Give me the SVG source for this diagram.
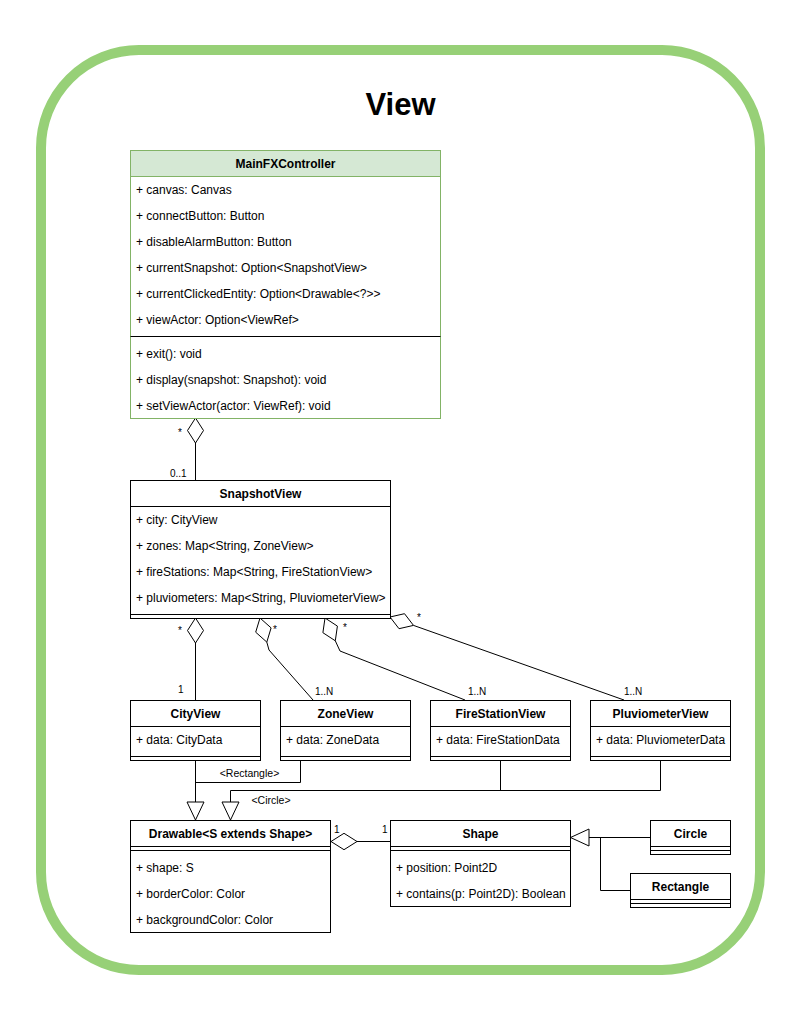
<svg xmlns="http://www.w3.org/2000/svg" width="801" height="1011" viewBox="0 0 801 1011">
<style>
text{font-family:"Liberation Sans",Arial,Helvetica,sans-serif;fill:#000}
.t{font-size:12px;font-weight:bold;text-anchor:middle}
.a{font-size:12px}
.m{font-size:10px}
.l{font-size:10.5px;text-anchor:middle}
.box{fill:#fff;stroke:#000;stroke-width:1}
.ln{stroke:#000;stroke-width:1;fill:none}
.e{stroke:#000;stroke-width:1;fill:none}
.d{stroke:#000;stroke-width:1;fill:#fff}
</style>
<rect width="801" height="1011" fill="#fff"/>
<rect x="41" y="50" width="719" height="920" rx="98" ry="98" fill="none" stroke="#97D077" stroke-width="10"/>
<text x="400.5" y="115" style="font-size:31px;font-weight:bold;text-anchor:middle">View</text>

<g id="connectors">
  <path class="e" d="M195.5,443 L195.5,480"/>
  <path class="d" d="M195.5,418 L203.5,430.5 L195.5,443 L187.5,430.5 Z"/>
  <text class="m" x="178" y="436">*</text>
  <text class="m" x="170" y="477">0..1</text>
  <path class="e" d="M195.5,643 L195.5,700"/>
  <path class="d" d="M195.5,618 L203.5,630.5 L195.5,643 L187.5,630.5 Z"/>
  <text class="m" x="178" y="634">*</text>
  <text class="m" x="178" y="693">1</text>
  <path class="e" d="M266.8,642.1 L269,650 L313,700"/>
  <path class="d" d="M260,618 L271.1,627.9 L266.8,642.1 L255.7,632.2 Z"/>
  <text class="m" x="273" y="633">*</text>
  <text class="m" x="315" y="695">1..N</text>
  <path class="e" d="M335.3,640.8 L340,651 L465,700"/>
  <path class="d" d="M325,618 L337.4,626.1 L335.3,640.8 L322.9,632.7 Z"/>
  <text class="m" x="343" y="631">*</text>
  <text class="m" x="468" y="695">1..N</text>
  <path class="e" d="M413.5,625.4 L624,700"/>
  <path class="d" d="M390,617 L404.5,613.7 L413.5,625.4 L399,628.7 Z"/>
  <text class="m" x="417" y="621">*</text>
  <text class="m" x="624" y="695">1..N</text>
  <path class="e" d="M195.5,760 L195.5,802"/>
  <path class="e" d="M300.5,760 L300.5,782.5 L195.5,782.5"/>
  <path class="d" d="M187,802 L204,802 L195.5,820 Z"/>
  <text class="l" x="249.5" y="777">&lt;Rectangle&gt;</text>
  <path class="e" d="M500.5,760 L500.5,790.5"/>
  <path class="e" d="M660.5,760 L660.5,790.5 L230.5,790.5 L230.5,802"/>
  <path class="d" d="M222,802 L239,802 L230.5,820 Z"/>
  <text class="l" x="271" y="804">&lt;Circle&gt;</text>
  <path class="e" d="M357,841.5 L390,841.5"/>
  <path class="d" d="M331,841.5 L344,833.3 L357,841.5 L344,849.7 Z"/>
  <text class="m" x="334" y="833">1</text>
  <text class="m" x="382" y="833">1</text>
  <path class="e" d="M650,837.5 L589,837.5"/>
  <path class="e" d="M630,890.5 L600.5,890.5 L600.5,837.5"/>
  <path class="d" d="M570.5,837.5 L589,829 L589,846 Z"/>
</g>

<g id="MainFXController">
  <rect x="130.5" y="150.5" width="310" height="268" fill="#fff" stroke="#82b366"/>
  <rect x="130.5" y="150.5" width="310" height="26" fill="#d5e8d4" stroke="#82b366"/>
  <text class="t" x="285.5" y="167.5">MainFXController</text>
  <text class="a" x="136" y="194">+ canvas: Canvas</text>
  <text class="a" x="136" y="220">+ connectButton: Button</text>
  <text class="a" x="136" y="246">+ disableAlarmButton: Button</text>
  <text class="a" x="136" y="272">+ currentSnapshot: Option&lt;SnapshotView&gt;</text>
  <text class="a" x="136" y="298">+ currentClickedEntity: Option&lt;Drawable&lt;?&gt;&gt;</text>
  <text class="a" x="136" y="324">+ viewActor: Option&lt;ViewRef&gt;</text>
  <path class="ln" d="M130.5,336.5 L440.5,336.5"/>
  <text class="a" x="136" y="358">+ exit(): void</text>
  <text class="a" x="136" y="384">+ display(snapshot: Snapshot): void</text>
  <text class="a" x="136" y="410">+ setViewActor(actor: ViewRef): void</text>
</g>

<g id="SnapshotView">
  <rect class="box" x="130.5" y="480.5" width="260" height="138"/>
  <path class="ln" d="M130.5,506.5 L390.5,506.5 M130.5,614.5 L390.5,614.5"/>
  <text class="t" x="260.5" y="497.5">SnapshotView</text>
  <text class="a" x="136" y="524">+ city: CityView</text>
  <text class="a" x="136" y="550">+ zones: Map&lt;String, ZoneView&gt;</text>
  <text class="a" x="136" y="576">+ fireStations: Map&lt;String, FireStationView&gt;</text>
  <text class="a" x="136" y="602">+ pluviometers: Map&lt;String, PluviometerView&gt;</text>
</g>

<g id="CityView">
  <rect class="box" x="130.5" y="700.5" width="130" height="60"/>
  <path class="ln" d="M130.5,726.5 L260.5,726.5 M130.5,756.5 L260.5,756.5"/>
  <text class="t" x="195.5" y="717.5">CityView</text>
  <text class="a" x="136" y="744">+ data: CityData</text>
</g>

<g id="ZoneView">
  <rect class="box" x="280.5" y="700.5" width="130" height="60"/>
  <path class="ln" d="M280.5,726.5 L410.5,726.5 M280.5,756.5 L410.5,756.5"/>
  <text class="t" x="345.5" y="717.5">ZoneView</text>
  <text class="a" x="286" y="744">+ data: ZoneData</text>
</g>

<g id="FireStationView">
  <rect class="box" x="430.5" y="700.5" width="140" height="60"/>
  <path class="ln" d="M430.5,726.5 L570.5,726.5 M430.5,756.5 L570.5,756.5"/>
  <text class="t" x="500.5" y="717.5">FireStationView</text>
  <text class="a" x="436" y="744">+ data: FireStationData</text>
</g>

<g id="PluviometerView">
  <rect class="box" x="590.5" y="700.5" width="140" height="60"/>
  <path class="ln" d="M590.5,726.5 L730.5,726.5 M590.5,756.5 L730.5,756.5"/>
  <text class="t" x="660.5" y="717.5">PluviometerView</text>
  <text class="a" x="596" y="744">+ data: PluviometerData</text>
</g>

<g id="Drawable">
  <rect class="box" x="130.5" y="820.5" width="200" height="112"/>
  <path class="ln" d="M130.5,846.5 L330.5,846.5 M130.5,850.5 L330.5,850.5"/>
  <text class="t" x="230.5" y="837.5">Drawable&lt;S extends Shape&gt;</text>
  <text class="a" x="136" y="872">+ shape: S</text>
  <text class="a" x="136" y="898">+ borderColor: Color</text>
  <text class="a" x="136" y="924">+ backgroundColor: Color</text>
</g>

<g id="Shape">
  <rect class="box" x="390.5" y="820.5" width="180" height="86"/>
  <path class="ln" d="M390.5,846.5 L570.5,846.5 M390.5,850.5 L570.5,850.5"/>
  <text class="t" x="480.5" y="837.5">Shape</text>
  <text class="a" x="396" y="872">+ position: Point2D</text>
  <text class="a" x="396" y="898">+ contains(p: Point2D): Boolean</text>
</g>

<g id="Circle">
  <rect class="box" x="650.5" y="820.5" width="80" height="34"/>
  <path class="ln" d="M650.5,846.5 L730.5,846.5 M650.5,850.5 L730.5,850.5"/>
  <text class="t" x="690.5" y="837.5">Circle</text>
</g>

<g id="Rectangle">
  <rect class="box" x="630.5" y="873.5" width="100" height="34"/>
  <path class="ln" d="M630.5,899.5 L730.5,899.5 M630.5,903.5 L730.5,903.5"/>
  <text class="t" x="680.5" y="890.5">Rectangle</text>
</g>
</svg>
